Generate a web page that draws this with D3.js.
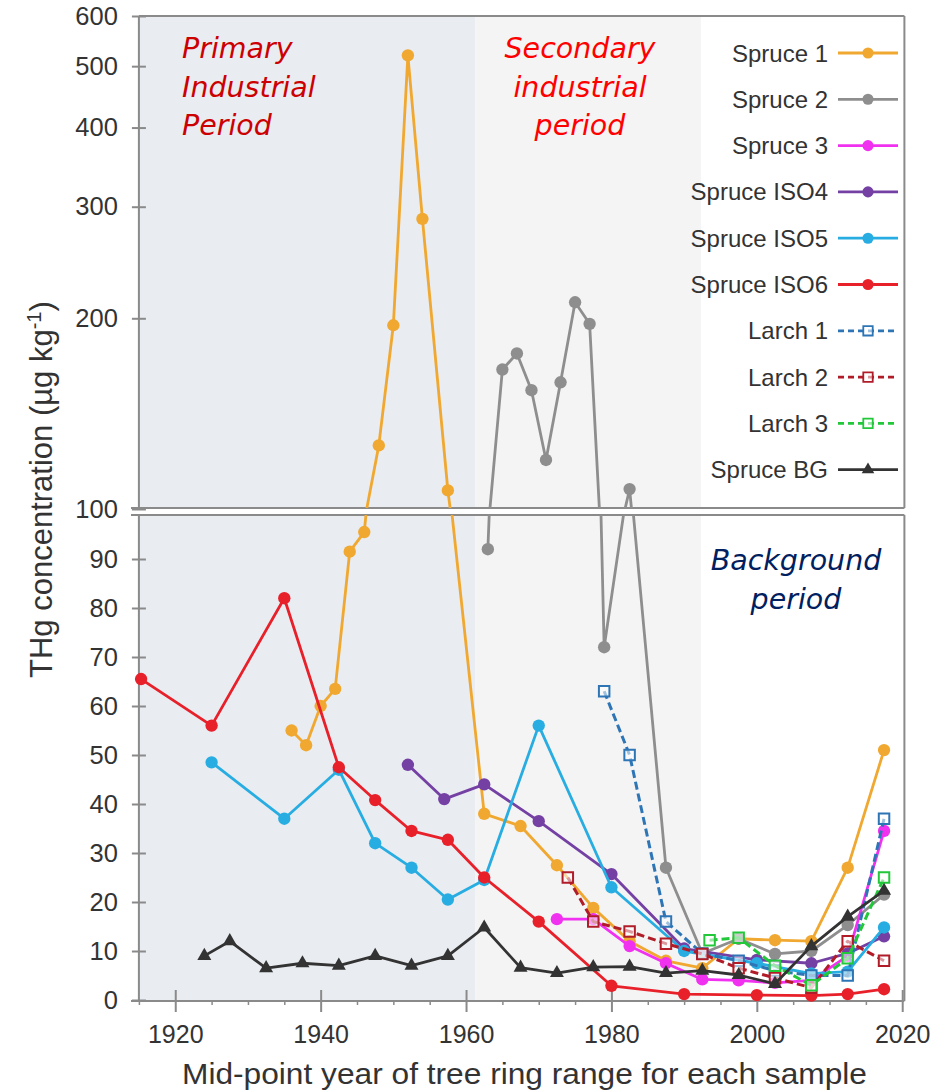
<!DOCTYPE html>
<html>
<head>
<meta charset="utf-8">
<script src="https://cdn.jsdelivr.net/npm/d3@7"></script>
<style>
body{margin:0;background:#fff;}
svg text{font-family:"Liberation Sans",Arial,sans-serif;fill:#333;}
.note{font-family:"DejaVu Sans",Verdana,sans-serif;font-style:italic;}
</style>
</head>
<body>
<svg id="chart" width="938" height="1091"></svg>
<script>
// THg in tree rings, [mid-point year, value]
const spruce1 = [[1936,55],[1938,52],[1940,60],[1942,63.5],[1944,91.5],[1946,95.5],[1948,126],[1950,195],[1952,520],[1954,287],[1957.5,107],[1962.5,38],[1967.5,35.5],[1972.5,27.5],[1977.5,18.8],[1982.5,12],[1987.5,8],[1992.5,6.5],[1997.5,12.5],[2002.5,12.2],[2007.5,12],[2012.5,27],[2017.5,51]];
const spruce2 = [[1963,92],[1965,166],[1967,176],[1969,154],[1971,119.5],[1973,158.5],[1975,212],[1977,196],[1979,72],[1982.5,107.5],[1987.5,27],[1992.5,9.5],[1997.5,12.5],[2002.5,9.4],[2007.5,10],[2012.5,15.3],[2017.5,21.5]];
const spruce3 = [[1972.5,16.5],[1977.5,16.5],[1982.5,11],[1987.5,7.5],[1992.5,4.2],[1997.5,4],[2002.5,3.5],[2007.5,4],[2012.5,9],[2017.5,34.5]];
const spruceIso4 = [[1952,48],[1957,41],[1962.5,44],[1970,36.5],[1980,25.7],[1990,10.5],[2000,8.2],[2007.5,7.5],[2012.5,9.5],[2017.5,13]];
const spruceIso5 = [[1925,48.5],[1935,37],[1942.5,47],[1947.5,32],[1952.5,27],[1957.5,20.5],[1962.5,24.5],[1970,56],[1980,23],[1990,10],[2000,7.5],[2007.5,5.4],[2012.5,5.8],[2017.5,14.8]];
const spruceIso6 = [[1915.3,65.5],[1925,56],[1935,82],[1942.5,47.5],[1947.5,40.8],[1952.5,34.5],[1957.5,32.7],[1962.5,25],[1970,16],[1980,2.9],[1990,1.2],[2000,1],[2007.5,0.9],[2012.5,1.2],[2017.5,2.2]];
const larch1 = [[1979,63],[1982.5,50],[1987.5,16],[1992.5,9.5],[1997.5,8],[2002.5,6],[2007.5,5],[2012.5,5],[2017.5,37]];
const larch2 = [[1974,25],[1977.5,16],[1982.5,14],[1987.5,11.5],[1992.5,9.4],[1997.5,6.5],[2002.5,4.5],[2007.5,2.5],[2012.5,12],[2017.5,8]];
const larch3 = [[1993.5,12.2],[1997.5,12.7],[2002.5,7],[2007.5,3],[2012.5,8.5],[2017.5,25]];
const spruceBG = [[1924,9],[1927.5,12],[1932.5,6.5],[1937.5,7.5],[1942.5,7],[1947.5,9],[1952.5,7],[1957.5,9],[1962.5,14.8],[1967.5,6.6],[1972.5,5.5],[1977.5,6.7],[1982.5,6.8],[1987.5,5.5],[1992.5,6],[1997.5,5.1],[2002.5,3.3],[2007.5,11],[2012.5,17],[2017.5,22.3]];

const seriesNames = ['Spruce 1','Spruce 2','Spruce 3','Spruce ISO4','Spruce ISO5','Spruce ISO6','Larch 1','Larch 2','Larch 3','Spruce BG'];
const periods = [['Primary', 1915, 1961.3], ['Secondary', 1961.3, 1992.3]];
const xTicksMajor = [1920,1940,1960,1980,2000,2020];
const yTicksBottom = [0,10,20,30,40,50,60,70,80,90];
const yTicksTop = [100,200,300,400,500,600];

// styles
const styles = {
	'Spruce 1':    {color:'#f0a830', mark:'circle'},
	'Spruce 2':    {color:'#8e8e8e', mark:'circle'},
	'Spruce 3':    {color:'#f032f0', mark:'circle'},
	'Spruce ISO4': {color:'#7440a4', mark:'circle'},
	'Spruce ISO5': {color:'#28ade2', mark:'circle'},
	'Spruce ISO6': {color:'#e8202a', mark:'circle'},
	'Larch 1':     {color:'#2e75b6', mark:'square', dash:'8,4'},
	'Larch 2':     {color:'#b01c28', mark:'square', dash:'8,4'},
	'Larch 3':     {color:'#22c83a', mark:'square', dash:'8,4'},
	'Spruce BG':   {color:'#333333', mark:'triangle'}
};
const dataList = [spruce1, spruce2, spruce3, spruceIso4, spruceIso5, spruceIso6, larch1, larch2, larch3, spruceBG];
const series = seriesNames.map((n,i) => Object.assign({name:n, data:dataList[i]}, styles[n]));

const svg = d3.select('#chart');

const x = d3.scaleLinear().domain([1915, 2020.3]).range([138.9, 904.4]);
const yTop = d3.scaleLog().domain([100, 600]).range([509, 16]);
const yBot = d3.scaleLinear().domain([0, 100]).range([1000, 510]);

const panelTop = {y0:16, y1:508};
const panelBot = {y0:515, y1:1001};
const xl = x.range()[0], xr = x.range()[1];

// clip paths
const defs = svg.append('defs');
defs.append('clipPath').attr('id','clip-top').append('rect')
	.attr('x', xl).attr('y', panelTop.y0).attr('width', xr - xl).attr('height', panelTop.y1 - panelTop.y0);
defs.append('clipPath').attr('id','clip-bot').append('rect')
	.attr('x', xl).attr('y', panelBot.y0).attr('width', xr - xl).attr('height', panelBot.y1 - panelBot.y0);

// period shading
const shade = {Primary:'#e9ecf1', Secondary:'#f4f4f4'};
[panelTop, panelBot].forEach(p => {
	svg.selectAll(null).data(periods).enter().append('rect')
		.attr('x', d => x(d[1]))
		.attr('width', d => x(d[2]) - x(d[1]))
		.attr('y', p.y0)
		.attr('height', p.y1 - p.y0)
		.style('fill', d => shade[d[0]]);
});

// period notes
const notes = [
	{lines:['Primary','Industrial','Period'], x:182, y:58, anchor:'start', color:'#cc0000'},
	{lines:['Secondary','industrial','period'], x:580, y:58, anchor:'middle', color:'#ff0000'},
	{lines:['Background','period'], x:796, y:570, anchor:'middle', color:'#002060'}
];
notes.forEach(n => {
	const t = svg.append('text').attr('class','note')
		.attr('text-anchor', n.anchor)
		.style('font-size','28.5px')
		.style('fill', n.color);
	n.lines.forEach((l,i) => {
		t.append('tspan').attr('x', n.x).attr('y', n.y + i * 38.5).text(l);
	});
});

// axes
const axYTop = svg.append('g').attr('transform', `translate(${xl},0)`)
	.call(d3.axisLeft(yTop).tickValues(yTicksTop).tickFormat(d3.format('d')).tickSize(7).tickPadding(14));
const axYBot = svg.append('g').attr('transform', `translate(${xl},0)`)
	.call(d3.axisLeft(yBot).tickValues(yTicksBottom).tickSize(7).tickPadding(14));
[axYTop, axYBot].forEach(a => {
	a.select('.domain').remove();
	a.selectAll('.tick line').attr('x1', 7).style('stroke','#8a8a8a').style('stroke-width',2);
	a.selectAll('.tick text').style('font-size','25.5px').style('font-family','"Liberation Sans",Arial,sans-serif').style('fill','#333');
});

const axX = svg.append('g').attr('transform', `translate(0,${panelBot.y1})`)
	.call(d3.axisBottom(x).tickValues(xTicksMajor).tickFormat(d3.format('d')).tickSize(11));
axX.select('.domain').remove();
axX.selectAll('.tick line').attr('y1', -11).style('stroke','#8a8a8a').style('stroke-width',2);
axX.selectAll('.tick text').attr('y', 42).attr('dy', 0)
	.style('font-size','25px').style('font-family','"Liberation Sans",Arial,sans-serif').style('fill','#333');

const minor = d3.range(1915, 2021, 5).filter(d => d % 20 !== 0);
const axXMinor = svg.append('g').attr('transform', `translate(0,${panelBot.y1})`)
	.call(d3.axisBottom(x).tickValues(minor).tickFormat('').tickSize(4));
axXMinor.select('.domain').remove();
axXMinor.selectAll('.tick line').style('stroke','#8a8a8a').style('stroke-width',1.5);

// frames
const frame = [
	[xl, panelTop.y0, xr, panelTop.y0], [xl, panelTop.y0, xl, panelTop.y1], [xr, panelTop.y0, xr, panelTop.y1], [131, panelTop.y1, xr, panelTop.y1],
	[131, panelBot.y0, xr, panelBot.y0], [xl, panelBot.y0, xl, panelBot.y1], [xr, panelBot.y0, xr, panelBot.y1], [131, panelBot.y1, xr, panelBot.y1]
];
svg.selectAll('.frame').data(frame).enter().append('line')
	.attr('class','frame')
	.attr('x1', d => d[0]).attr('y1', d => d[1])
	.attr('x2', d => d[2]).attr('y2', d => d[3])
	.style('stroke','#8a8a8a')
	.style('stroke-width',2);

// markers
const symbolOf = {
	circle: d3.symbol().type(d3.symbolCircle).size(120),
	square: d3.symbol().type(d3.symbolSquare).size(110),
	triangle: d3.symbol().type(d3.symbolTriangle).size(85)
};
function drawMark(g, s, cx, cy, scale) {
	const m = g.append('path')
		.attr('d', symbolOf[s.mark]())
		.attr('transform', `translate(${cx},${cy}) scale(${scale || 1})`);
	if (s.mark === 'square') {
		m.style('fill','rgba(255,255,255,0.55)').style('stroke', s.color).style('stroke-width',2);
	} else {
		m.style('fill', s.color);
	}
}

// series, drawn in both panels and clipped
const panels = [{y:yTop, clip:'clip-top'}, {y:yBot, clip:'clip-bot'}];
series.forEach(s => {
	panels.forEach(p => {
		const line = d3.line().x(d => x(d[0])).y(d => p.y(d[1]));
		svg.append('path')
			.datum(s.data)
			.attr('clip-path', `url(#${p.clip})`)
			.attr('d', line)
			.style('fill','none')
			.style('stroke', s.color)
			.style('stroke-width', s.dash ? 3 : 2.8)
			.style('stroke-dasharray', s.dash || null)
			.style('stroke-linejoin','round');
	});
	const g = svg.append('g');
	s.data.forEach(d => {
		const cy = d[1] >= 100 ? yTop(d[1]) : yBot(d[1]);
		drawMark(g, s, x(d[0]), cy);
	});
});

// legend
const legend = svg.append('g');
series.forEach((s,i) => {
	const ly = 53 + i * 46.3;
	legend.append('text')
		.attr('x', 828).attr('y', ly + 8.5)
		.attr('text-anchor','end')
		.style('font-size','24px')
		.text(s.name);
	legend.append('line')
		.attr('x1', 838).attr('x2', 898).attr('y1', ly).attr('y2', ly)
		.style('stroke', s.color)
		.style('stroke-width', 2.8)
		.style('stroke-dasharray', s.dash ? '6,4' : null);
	drawMark(legend, s, 868, ly, 0.9);
});

// axis titles
svg.append('text')
	.attr('x', 182).attr('y', 1084)
	.attr('textLength', 685).attr('lengthAdjust','spacingAndGlyphs')
	.style('font-size','29px')
	.text('Mid-point year of tree ring range for each sample');

const yt = svg.append('text')
	.attr('transform','translate(52,678) rotate(-90)')
	.style('font-size','31px');
yt.append('tspan').text('THg concentration (µg kg');
yt.append('tspan').attr('dy', -11).style('font-size','20px').text('-1');
yt.append('tspan').attr('dy', 11).text(')');
</script>
</body>
</html>
